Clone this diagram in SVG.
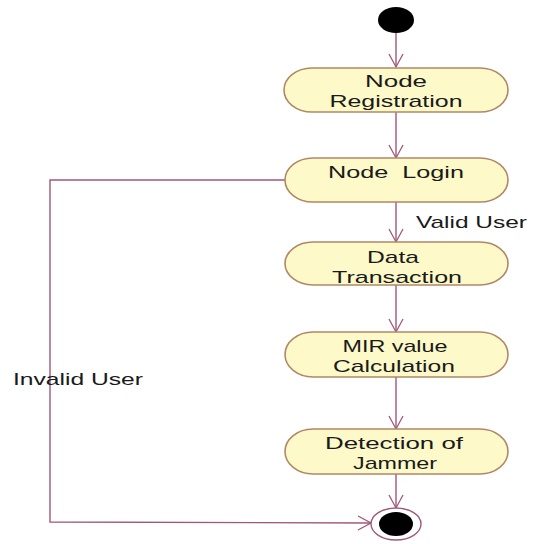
<svg xmlns="http://www.w3.org/2000/svg" width="534" height="544" viewBox="0 0 534 544">
  <defs>
    <marker id="open-arrow" markerWidth="18" markerHeight="18" refX="14" refY="8" orient="auto" markerUnits="userSpaceOnUse">
      <path d="M1,1 L14,8 L1,15" fill="none" stroke="#a0587a" stroke-width="1.3"/>
    </marker>
  </defs>
  <style>
    .act { fill: #fdf9c9; stroke: #b08866; stroke-width: 1.6; }
    .lbl { font-family: "Liberation Sans", Arial, sans-serif; font-size: 17px; fill: #1a1a1a; text-anchor: middle; white-space: pre; }
    .edge-lbl { font-family: "Liberation Sans", Arial, sans-serif; font-size: 17px; fill: #1a1a1a; white-space: pre; }
    .flow { fill: none; stroke: #a0587a; stroke-width: 1.4; marker-end: url(#open-arrow); }
  </style>
  <rect width="534" height="544" fill="#ffffff"/>

  <!-- control flow -->
  <g id="connectors">
    <line class="flow" x1="396" y1="32" x2="396" y2="67"/>
    <line class="flow" x1="396" y1="112" x2="396" y2="158"/>
    <line class="flow" x1="396" y1="202" x2="396" y2="242"/>
    <line class="flow" x1="396" y1="285" x2="396" y2="332"/>
    <line class="flow" x1="396" y1="377" x2="396" y2="429"/>
    <line class="flow" x1="396" y1="474" x2="396" y2="508"/>
    <polyline class="flow" points="285,180 50,180 50,522 371,523"/>
    <text class="edge-lbl" x="416" y="228" textLength="111" lengthAdjust="spacingAndGlyphs">Valid User</text>
    <text class="edge-lbl" x="13" y="385" textLength="130" lengthAdjust="spacingAndGlyphs">Invalid User</text>
  </g>

  <g id="start">
    <ellipse cx="396" cy="20" rx="18" ry="13" fill="#000000"/>
  </g>

  <g id="node-registration">
    <rect class="act" x="284" y="68" width="224" height="44" rx="28" ry="22"/>
    <text class="lbl" x="396" y="87" textLength="62" lengthAdjust="spacingAndGlyphs">Node</text>
    <text class="lbl" x="396" y="107" textLength="133" lengthAdjust="spacingAndGlyphs">Registration</text>
  </g>

  <g id="node-login">
    <rect class="act" x="285" y="158" width="223" height="44" rx="28" ry="22"/>
    <text class="lbl" x="396" y="178" textLength="136" lengthAdjust="spacingAndGlyphs">Node  Login</text>
  </g>

  <g id="data-transaction">
    <rect class="act" x="285" y="242" width="223" height="43" rx="28" ry="21.5"/>
    <text class="lbl" x="393" y="263" textLength="52" lengthAdjust="spacingAndGlyphs">Data</text>
    <text class="lbl" x="397" y="283" textLength="130" lengthAdjust="spacingAndGlyphs">Transaction</text>
  </g>

  <g id="mir-calculation">
    <rect class="act" x="285" y="332" width="223" height="45" rx="28" ry="22.5"/>
    <text class="lbl" x="395" y="352" textLength="105" lengthAdjust="spacingAndGlyphs">MIR value</text>
    <text class="lbl" x="394" y="372" textLength="122" lengthAdjust="spacingAndGlyphs">Calculation</text>
  </g>

  <g id="detection-of-jammer">
    <rect class="act" x="285" y="429" width="223" height="45" rx="28" ry="22.5"/>
    <text class="lbl" x="394" y="449" textLength="138" lengthAdjust="spacingAndGlyphs">Detection of</text>
    <text class="lbl" x="395" y="469" textLength="84" lengthAdjust="spacingAndGlyphs">Jammer</text>
  </g>

  <g id="end">
    <ellipse cx="396" cy="524" rx="25" ry="16" fill="#ffffff" stroke="#a0587a" stroke-width="1.4"/>
    <ellipse cx="396" cy="524" rx="17" ry="12" fill="#000000"/>
  </g>
</svg>
